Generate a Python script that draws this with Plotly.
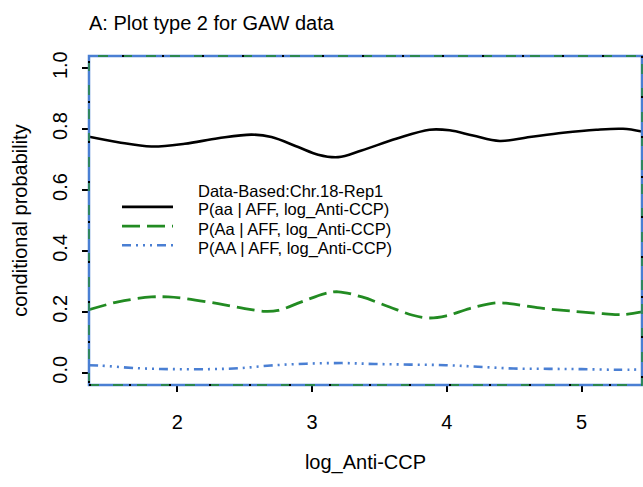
import plotly.graph_objects as go

# ---------------- data ----------------
x_aa = [1.345, 1.561, 1.808, 2.056, 2.303, 2.551, 2.699, 2.897, 3.045, 3.194, 3.367,
        3.624, 3.872, 4.021, 4.194, 4.392, 4.615, 4.862, 5.109, 5.307, 5.448]
y_aa = [0.775, 0.757, 0.743, 0.752, 0.770, 0.782, 0.774, 0.741, 0.716, 0.708, 0.730,
        0.768, 0.798, 0.796, 0.779, 0.761, 0.774, 0.788, 0.798, 0.801, 0.792]

x_Aa = [1.345, 1.561, 1.808, 1.932, 2.056, 2.303, 2.501, 2.650, 2.748, 2.922, 3.095,
        3.194, 3.370, 3.575, 3.748, 3.872, 3.996, 4.169, 4.367, 4.466, 4.689, 4.912,
        5.159, 5.307, 5.448]
y_Aa = [0.207, 0.233, 0.249, 0.249, 0.244, 0.227, 0.211, 0.202, 0.205, 0.233, 0.260,
        0.266, 0.249, 0.216, 0.189, 0.180, 0.187, 0.211, 0.230, 0.227, 0.213, 0.203,
        0.194, 0.191, 0.200]

x_AA = [1.345, 1.419, 1.711, 1.974, 2.241, 2.454, 2.692, 2.957, 3.221, 3.461, 3.726,
        3.991, 4.230, 4.495, 4.760, 4.999, 5.263, 5.448]
y_AA = [0.025, 0.024, 0.015, 0.012, 0.012, 0.015, 0.024, 0.030, 0.032, 0.029, 0.027,
        0.025, 0.020, 0.014, 0.013, 0.012, 0.010, 0.011]

series_names = ["P(aa | AFF, log_Anti-CCP)",
                "P(Aa | AFF, log_Anti-CCP)",
                "P(AA | AFF, log_Anti-CCP)"]
legend_header = "Data-Based:Chr.18-Rep1"

x_ticks = [2, 3, 4, 5]
y_ticks = [0.0, 0.2, 0.4, 0.6, 0.8, 1.0]
y_tick_labels = ["0.0", "0.2", "0.4", "0.6", "0.8", "1.0"]

title_text = "A: Plot type 2 for GAW data"
x_title = "log_Anti-CCP"
y_title = "conditional probability"

# ---------------- styling ----------------
FONT = "Liberation Sans, Arial, Helvetica, sans-serif"
BLACK = "#000000"
GREEN = "#228B22"
BLUE = "#4A7FD3"
DASH_GREEN = "18px,7px"
DASH_BLUE = "9px,5px,2px,5px,2px,5px,2px,5px"

W, H = 643, 487
L, R, T, B = 89, 1, 56, 102
pw, ph = W - L - R, H - T - B


def px2paper(px, py):
    return (px - L) / pw, (H - B - py) / ph


fig = go.Figure()
fig.add_trace(go.Scatter(x=x_aa, y=y_aa, mode="lines", name=series_names[0],
                         line=dict(color=BLACK, width=2.6, shape="spline", smoothing=1.0),
                         showlegend=False))
fig.add_trace(go.Scatter(x=x_Aa, y=y_Aa, mode="lines", name=series_names[1],
                         line=dict(color=GREEN, width=2.8, dash=DASH_GREEN, shape="spline", smoothing=1.0),
                         showlegend=False))
fig.add_trace(go.Scatter(x=x_AA, y=y_AA, mode="lines", name=series_names[2],
                         line=dict(color=BLUE, width=2.6, dash=DASH_BLUE, shape="spline", smoothing=1.0),
                         showlegend=False))

shapes = []
annotations = []

# frame: blue solid with green dashes and black dots overlaid
shapes.append(dict(type="rect", xref="paper", yref="paper", x0=0, x1=1, y0=0, y1=1,
                   line=dict(color=BLUE, width=2.5), layer="above"))
shapes.append(dict(type="rect", xref="paper", yref="paper", x0=0, x1=1, y0=0, y1=1,
                   line=dict(color=GREEN, width=1.3, dash="10px,14px"), layer="above"))
shapes.append(dict(type="rect", xref="paper", yref="paper", x0=0, x1=1, y0=0, y1=1,
                   line=dict(color=BLACK, width=2, dash="2px,38px"), layer="above"))

# legend (drawn manually to match the R-style layout)
text_x = 197
row_y = [190.7, 209.9, 229.1, 248.3]
line_x0, line_x1 = 122, 173
styles = [dict(color=BLACK, width=2.6),
          dict(color=GREEN, width=2.8, dash=DASH_GREEN),
          dict(color=BLUE, width=2.6, dash=DASH_BLUE)]
labels = [legend_header] + series_names
for i, lab in enumerate(labels):
    ax, ay = px2paper(text_x, row_y[i])
    annotations.append(dict(xref="paper", yref="paper", x=ax, y=ay, text=lab,
                            showarrow=False, xanchor="left", yanchor="middle",
                            borderpad=0,
                            font=dict(family=FONT, size=16.5, color=BLACK)))
    if i > 0:
        lx0, ly = px2paper(line_x0, row_y[i] - 3)
        lx1, _ = px2paper(line_x1, row_y[i] - 3)
        shapes.append(dict(type="line", xref="paper", yref="paper", x0=lx0, x1=lx1,
                           y0=ly, y1=ly, line=styles[i - 1]))

fig.update_layout(
    width=W, height=H,
    margin=dict(l=L, r=R, t=T, b=B),
    paper_bgcolor="white", plot_bgcolor="white",
    font=dict(family=FONT, color=BLACK),
    showlegend=False,
    title=dict(text=title_text, x=89 / W, xref="container", xanchor="left",
               y=1 - 23 / H, yref="container", yanchor="middle",
               font=dict(family=FONT, size=20, color=BLACK)),
    shapes=shapes,
    annotations=annotations,
)

fig.update_xaxes(range=[1.345, 5.448], tickmode="array", tickvals=x_ticks,
                 ticks="outside", ticklen=6, tickwidth=1.5, tickcolor=BLACK,
                 showgrid=False, zeroline=False, showline=False,
                 tickfont=dict(family=FONT, size=20, color=BLACK),
                 ticklabelstandoff=13,
                 title=dict(text=x_title, font=dict(family=FONT, size=20, color=BLACK),
                            standoff=22))
fig.update_yaxes(range=[-0.04, 1.04], tickmode="array", tickvals=y_ticks,
                 ticktext=y_tick_labels, tickangle=-90,
                 ticks="outside", ticklen=6, tickwidth=1.5, tickcolor=BLACK,
                 showgrid=False, zeroline=False, showline=False,
                 tickfont=dict(family=FONT, size=20, color=BLACK),
                 ticklabelstandoff=7,
                 title=dict(text=y_title, font=dict(family=FONT, size=20, color=BLACK),
                            standoff=16))

fig.write_html("out.html")
